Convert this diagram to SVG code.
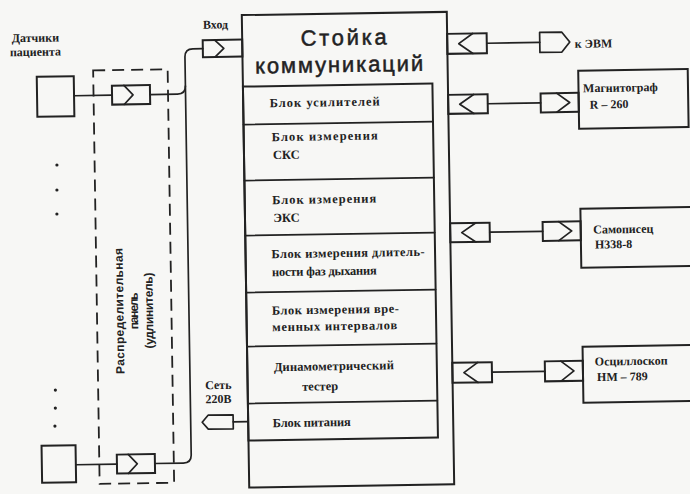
<svg xmlns="http://www.w3.org/2000/svg" width="690" height="494" viewBox="0 0 690 494">
<style>
.ln{fill:none;stroke:#222;stroke-width:1.7;stroke-linecap:round;stroke-linejoin:round}
.bx{fill:none;stroke:#222;stroke-width:2}
.dash{fill:none;stroke:#222;stroke-width:1.8;stroke-dasharray:12 7}
.t{font-family:"Liberation Serif","Times New Roman",serif;font-weight:bold;font-size:12.5px;fill:#222}
.s{font-family:"Liberation Serif","Times New Roman",serif;font-weight:bold;font-size:12px;fill:#222}
.ttl{font-family:"Liberation Sans",Arial,sans-serif;font-size:22px;fill:#222;stroke:#222;stroke-width:0.5;text-anchor:middle}
.rot{font-family:"Liberation Sans",Arial,sans-serif;font-weight:bold;font-size:12px;fill:#222;text-anchor:middle}
.dot{fill:#222}
</style>
<rect width="690" height="494" fill="#f7f7f5"/>
<g transform="rotate(-0.9 345 250)">
<g id="connectors">
<path class="ln" d="M206,46.5 H196 Q188,46.5 188,54.5 V452.5 Q188,460.5 180,460.5 H151.6"/>
<path class="ln" d="M152.5,91.5 H180 Q188,91.5 188,83.5"/>
<path class="ln" d="M76.5,91.5 H114.5"/>
<path class="ln" d="M72.5,460.5 H113.6"/>
<path class="ln" d="M230.5,420 H245.5"/>
<path class="ln" d="M490,45.5 H543"/>
<path class="ln" d="M490,106 H543"/>
<path class="ln" d="M490,234.5 H543"/>
<path class="ln" d="M490,374.5 H543"/>
</g>
<g id="stojka">
<rect class="bx" x="245.5" y="13.5" width="205" height="472.5" stroke-width="2.4"/>
<text class="ttl" x="347" y="45" textLength="86">Стойка</text>
<text class="ttl" x="342" y="72" textLength="168">коммуникаций</text>
<rect class="bx" x="245.5" y="85" width="189.5" height="354"/>
<path class="ln" d="M245.5,123 H435 M245.5,179 H435 M245.5,234 H435 M245.5,291 H435 M245.5,345 H435 M245.5,402 H435"/>
</g>
<g id="blok-usiliteley"><text class="t" x="272" y="106" textLength="110">Блок усилителей</text></g>
<g id="blok-sks"><text class="t" x="273.5" y="140" textLength="106">Блок измерения</text><text class="t" x="274.5" y="158">СКС</text></g>
<g id="blok-eks"><text class="t" x="273" y="203" textLength="104">Блок измерения</text><text class="t" x="274" y="221">ЭКС</text></g>
<g id="blok-dyhanie"><text class="t" x="271.5" y="257" textLength="153">Блок измерения длитель-</text><text class="t" x="271.5" y="275" textLength="105">ности фаз дыхания</text></g>
<g id="blok-intervaly"><text class="t" x="271" y="313.5" textLength="127">Блок измерения вре-</text><text class="t" x="271" y="330" textLength="125">менных интервалов</text></g>
<g id="dinamometr"><text class="t" x="272" y="370" textLength="120">Динамометрический</text><text class="t" x="300" y="390">тестер</text></g>
<g id="blok-pitaniya"><text class="t" x="270" y="426" textLength="78">Блок питания</text></g>

<g id="datchiki-label"><text class="s" x="15" y="37" font-size="11.5">Датчики</text><text class="s" x="13" y="51" font-size="11.5">пациента</text></g>
<g id="sensor-top">
<rect class="bx" x="39.5" y="72" width="37" height="40"/>
<rect class="bx" x="114.5" y="82" width="38" height="19" stroke-width="1.7"/>
<polyline class="ln" points="126.5,82 135.5,91.5 126.5,101"/>
</g>
<g id="dots">
<circle class="dot" cx="58.3" cy="160.5" r="1.6"/><circle class="dot" cx="57.9" cy="185.5" r="1.6"/><circle class="dot" cx="57.5" cy="209.5" r="1.6"/>
<circle class="dot" cx="53.2" cy="385.5" r="1.6"/><circle class="dot" cx="52.9" cy="403.5" r="1.6"/><circle class="dot" cx="52.2" cy="421.5" r="1.6"/>
</g>
<g id="sensor-bottom">
<rect class="bx" x="38.5" y="441" width="34" height="37"/>
<rect class="bx" x="113.6" y="451" width="38" height="19" stroke-width="1.7"/>
<polyline class="ln" points="125,451 134,460.5 125,470"/>
</g>
<g id="panel">
<rect class="dash" x="96" y="66.5" width="74.5" height="413.5"/>
<text class="rot" transform="translate(122.5,307.5) rotate(-90)" textLength="126">Распределительная</text>
<text class="rot" transform="translate(137,307.5) rotate(-90)" textLength="37">панель</text>
<text class="rot" transform="translate(152,307.5) rotate(-90)" textLength="76">(удлинитель)</text>
</g>
<g id="vhod">
<text class="s" x="206.5" y="26.5">Вход</text>
<rect class="bx" x="206" y="38" width="39.5" height="17" stroke-width="1.7"/>
<polyline class="ln" points="218,38 227,46.5 218,55"/>
</g>
<g id="set">
<text class="s" x="203" y="387" font-size="11">Сеть</text>
<text class="s" x="203" y="401" font-size="11">220В</text>
<polygon class="ln" points="199.5,420 205.5,413 230.5,413 230.5,427 205.5,427"/>
</g>
<g id="evm">
<rect class="bx" x="450.5" y="35.5" width="39.5" height="20" stroke-width="1.7"/>
<polyline class="ln" points="476,35.5 462,45.5 476,55.5"/>
<polygon class="ln" points="543,35.5 565,35.5 573,45.5 565,55.5 543,55.5"/>
<text class="s" x="578" y="51.5">к ЭВМ</text>
</g>
<g id="magnitograf">
<rect class="bx" x="450.5" y="96.5" width="39.5" height="19" stroke-width="1.7"/>
<polyline class="ln" points="476,96.5 462,106 476,115.5"/>
<rect class="bx" x="543" y="96.5" width="38" height="19" stroke-width="1.7"/>
<polyline class="ln" points="559,96.5 572,106 559,115.5"/>
<rect class="bx" x="581" y="74.5" width="109.5" height="58"/>
<text class="s" x="585.5" y="96" font-size="12.5">Магнитограф</text>
<text class="s" x="592" y="112.5">R – 260</text>
</g>
<g id="samopisec">
<rect class="bx" x="450.5" y="225" width="39.5" height="19" stroke-width="1.7"/>
<polyline class="ln" points="476,225 462,234.5 476,244"/>
<rect class="bx" x="543" y="225" width="38" height="19" stroke-width="1.7"/>
<polyline class="ln" points="559,225 572,234.5 559,244"/>
<rect class="bx" x="581" y="212.5" width="130" height="59"/>
<text class="s" x="593.5" y="237.5">Самописец</text>
<text class="s" x="595" y="252.5">Н338-8</text>
</g>
<g id="oscilloskop">
<rect class="bx" x="450.5" y="364.5" width="39.5" height="20" stroke-width="1.7"/>
<polyline class="ln" points="476,364.5 462,374.5 476,384.5"/>
<rect class="bx" x="543" y="364.5" width="38" height="20" stroke-width="1.7"/>
<polyline class="ln" points="559,364.5 572,374.5 559,384.5"/>
<rect class="bx" x="581" y="350.5" width="130" height="56"/>
<text class="s" x="593" y="369.5">Осциллоскоп</text>
<text class="s" x="595" y="385">НМ – 789</text>
</g>
</g>
</svg>
